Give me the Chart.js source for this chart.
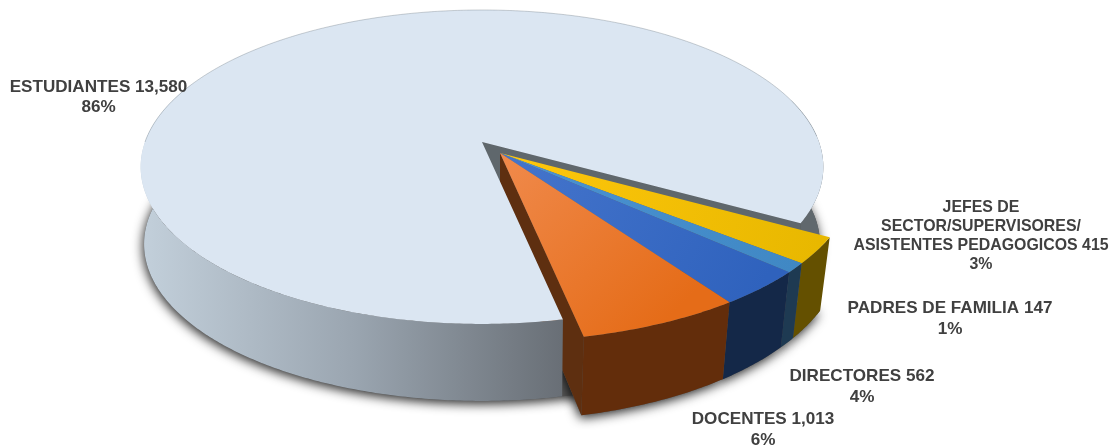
<!DOCTYPE html>
<html>
    <head>
        <meta charset="utf-8">
        <title>Pie</title>
        <script src="https://cdn.jsdelivr.net/npm/chart.js@4.4.1/dist/chart.umd.min.js"></script>
        <style>
            html, body { margin: 0; padding: 0; background: #fff; }
            #box { width: 1113px; height: 446px; }
        </style>
    </head>
    <body>
        <div id="box"><canvas id="graph1"></canvas></div>
        <script>
            const categories = ['ESTUDIANTES', 'JEFES DE\nSECTOR/SUPERVISORES/\nASISTENTES PEDAGOGICOS', 'PADRES DE FAMILIA', 'DIRECTORES', 'DOCENTES'];
            const values = [13580, 415, 147, 562, 1013];

            const topLight = ['#dbe6f2', '#ffc70c', '#4b93d3', '#4575cc', '#f08a4c'];
            const topDark = ['#dbe6f2', '#e8b800', '#4088c4', '#2f62bd', '#e56c18'];
            const sideColors = ['#60686d', '#645000', '#1e3a52', '#142848', '#632d0b'];

            // label centre x, first line centre y, line gap, font size
            const labelSpots = [[98.5, 87, 20, 17.1], [981, 208, 19, 15.9], [950, 308, 21, 17.1], [862, 376, 21, 17.1], [763, 419, 21, 17.1]];

            // perspective of the tilted disc
            const K = 0.159, A = 153, B = 337;
            const mainTop = { x: 482, y: 142, sx: 1, sy: 1 };
            const mainBase = { x: 482, y: 219, sx: 0.99, sy: 1 };
            const restTop = { x: 500, y: 153, sx: 1.035, sy: 1.035 };
            const restBase = { x: 500, y: 222, sx: 1.005, sy: 1.089 };

            function rim(disc, angle) {
                const u = Math.cos(angle), v = Math.sin(angle), w = 1 - K * v;
                return [disc.x + disc.sx * B * u / w, disc.y + disc.sy * A * v / w];
            }

            function tracePath(ctx, points) {
                ctx.beginPath();
                points.forEach((p, i) => i ? ctx.lineTo(p[0], p[1]) : ctx.moveTo(p[0], p[1]));
                ctx.closePath();
            }

            function arcPoints(disc, from, to) {
                const steps = Math.max(2, Math.ceil(Math.abs(to - from) / 0.01));
                const out = [];
                for (let i = 0; i <= steps; i++) {
                    out.push(rim(disc, from + (to - from) * i / steps));
                }
                return out;
            }

            function wallPoints(top, base, from, to) {
                return arcPoints(top, from, to).concat(arcPoints(base, to, from));
            }

            function fillShape(ctx, points, fill) {
                tracePath(ctx, points);
                ctx.fillStyle = fill;
                ctx.fill();
            }

            const pie3d = {
                id: 'pie3d',
                beforeDatasetDraw(chart, args) {
                    const ctx = chart.ctx;
                    const arcs = chart.getDatasetMeta(args.index).data;
                    const main = arcs[0];
                    const mainStart = main.startAngle, mainEnd = main.endAngle;
                    const seam = mainEnd - 2 * Math.PI;

                    ctx.save();

                    // soft shadow under both bodies
                    ctx.shadowColor = 'rgba(0,0,0,0.85)';
                    ctx.shadowBlur = 11;
                    ctx.shadowOffsetX = -1;
                    ctx.shadowOffsetY = 3;
                    fillShape(ctx, arcPoints(mainBase, 0, 2 * Math.PI), '#555');
                    arcs.slice(1).forEach(arc => {
                        fillShape(ctx, [[restBase.x, restBase.y]].concat(arcPoints(restBase, arc.startAngle - 2 * Math.PI, arc.endAngle - 2 * Math.PI)), '#555');
                    });
                    ctx.shadowBlur = 0;
                    ctx.shadowOffsetX = 0;
                    ctx.shadowOffsetY = 0;
                    ctx.shadowColor = 'transparent';

                    // cut face of the big slice, then the cut face of the nearest small slice
                    fillShape(ctx, [[mainTop.x, mainTop.y], rim(mainTop, seam), rim(mainBase, seam), [mainBase.x, mainBase.y]], '#5f676c');
                    const last = arcs[arcs.length - 1];
                    fillShape(ctx, [[restTop.x, restTop.y], rim(restTop, last.endAngle), rim(restBase, last.endAngle), [restBase.x, restBase.y]], '#5e2f10');

                    // big slice wall and top
                    const wall = ctx.createLinearGradient(145, 0, 565, 0);
                    wall.addColorStop(0, '#c2cfda');
                    wall.addColorStop(0.5, '#9aa5b0');
                    wall.addColorStop(1, '#686e75');
                    fillShape(ctx, wallPoints(mainTop, mainBase, mainStart, Math.PI * 1.12), wall);
                    fillShape(ctx, wallPoints(mainTop, mainBase, seam - 0.8, seam), sideColors[0]);
                    fillShape(ctx, [[mainTop.x, mainTop.y]].concat(arcPoints(mainTop, mainStart, mainEnd)), main.options.backgroundColor);

                    // faint edge along the far rim
                    ctx.beginPath();
                    arcPoints(mainTop, Math.PI, seam + 2 * Math.PI - 0.55).forEach((p, i) => i ? ctx.lineTo(p[0], p[1]) : ctx.moveTo(p[0], p[1]));
                    ctx.strokeStyle = 'rgba(110,120,130,0.35)';
                    ctx.lineWidth = 1;
                    ctx.stroke();

                    // small slices, far one first
                    arcs.slice(1).forEach((arc, i) => {
                        const from = arc.startAngle - 2 * Math.PI, to = arc.endAngle - 2 * Math.PI;
                        fillShape(ctx, wallPoints(restTop, restBase, from, to), sideColors[i + 1]);
                        const mid = rim(restTop, (from + to) / 2);
                        const grad = ctx.createLinearGradient(restTop.x, restTop.y, mid[0], mid[1]);
                        grad.addColorStop(0, topLight[i + 1]);
                        grad.addColorStop(1, topDark[i + 1]);
                        fillShape(ctx, [[restTop.x, restTop.y]].concat(arcPoints(restTop, from, to)), grad);
                    });

                    // labels
                    const total = values.reduce((a, b) => a + b, 0);
                    ctx.fillStyle = '#404040';
                    ctx.textAlign = 'center';
                    ctx.textBaseline = 'middle';
                    categories.forEach((name, i) => {
                        const lines = name.split('\n');
                        const spot = labelSpots[i];
                        lines[lines.length - 1] += ' ' + values[i].toLocaleString('en-US');
                        lines.push(Math.round(values[i] / total * 100) + '%');
                        ctx.font = '700 ' + spot[3] + 'px "Liberation Sans", Arial, sans-serif';
                        lines.forEach((line, j) => ctx.fillText(line, spot[0], spot[1] + j * spot[2]));
                    });

                    ctx.restore();
                    return false;
                }
            };

            new Chart('graph1', {
                type: 'pie',
                data: {
                    labels: categories,
                    datasets: [{ data: values, backgroundColor: topLight, borderWidth: 0 }]
                },
                options: {
                    responsive: true,
                    maintainAspectRatio: false,
                    animation: false,
                    rotation: 168.3,
                    plugins: { legend: { display: false }, tooltip: { enabled: false } }
                },
                plugins: [pie3d]
            });
        </script>
    </body>
</html>
